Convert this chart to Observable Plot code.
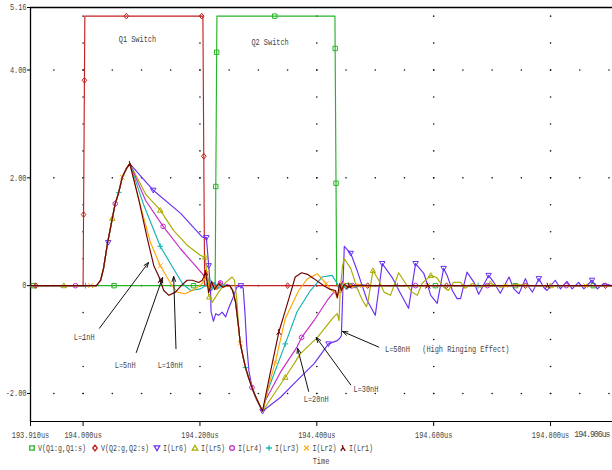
<!DOCTYPE html>
<html><head><meta charset="utf-8">
<script src="https://cdn.jsdelivr.net/npm/d3@7"></script>
<script src="https://cdn.jsdelivr.net/npm/@observablehq/plot@0.6"></script>
<style>body{margin:0;background:#fff}</style>
</head><body><div id="chart"></div>
<script>
// ---------- axis ticks ----------
const xTicks = [193.91, 194.0, 194.2, 194.4, 194.6, 194.8, 194.906];
const xTickLabels = ["193.910us","194.000us","194.200us","194.400us","194.600us","194.800us","194.906us"];
const yTicks = [5.16, 4, 2, 0, -2];
const yTickLabels = ["5.16","4.00","2.00","0","-2.00"];
const xDomain = [193.91, 194.906];
const yDomain = [-2.52, 5.16];
const gridMajorT = [194.0, 194.2, 194.4, 194.6, 194.8];
const gridMajorV = [-2, 0, 2, 4];

// ---------- series: [time (us), value] ----------
const vQ1 = [[193.910,0],[194.226,0],[194.229,5.0],[194.431,5.0],[194.434,0],[194.906,0]];
const vQ2 = [[193.910,0],[194.000,0],[194.003,5.0],[194.205,5.0],[194.208,0],[194.906,0]];

const riseCommon = [[193.910,0],[194.023,0],[194.030,0.10],[194.035,0.32],[194.042,0.80],[194.050,1.25],
  [194.055,1.52],[194.061,1.73],[194.067,2.01],[194.074,2.17],[194.080,2.26]];
const fallCommon = [[194.251,0],[194.256,-0.09],[194.261,-0.31],[194.266,-0.76]];
const dipCommon = [[194.269,-1.07],[194.274,-1.33],[194.278,-1.52],[194.283,-1.70],[194.289,-1.89],
  [194.295,-2.05],[194.301,-2.19],[194.307,-2.33]];

const iLr6 = riseCommon.concat([[194.120,1.77],[194.167,1.34],[194.204,0.90],[194.211,0.89],[194.215,0.37],
  [194.218,-0.05],[194.219,-0.48],[194.223,-0.66],[194.227,-0.52],[194.232,-0.55],[194.238,-0.49],[194.244,-0.58],
  [194.249,-0.42],[194.256,-0.24],[194.263,-0.03],[194.270,0],[194.274,-0.05],[194.277,-0.50],[194.280,-1.10],
  [194.284,-1.60],[194.290,-1.93],[194.297,-2.12],[194.307,-2.33],[194.338,-2.07],[194.366,-1.76],[194.395,-1.45],
  [194.420,-1.08],[194.435,-1.02],[194.439,-0.98],[194.442,-0.93],[194.444,-0.27],[194.447,0.73],[194.458,0.60],
  [194.469,0.28],[194.486,-0.27],[194.500,-0.55],[194.512,0.41],[194.529,0.15],[194.543,-0.14],[194.557,-0.42],
  [194.569,0.41],[194.583,0.23],[194.595,-0.18],[194.606,-0.33],[194.617,0.32],[194.623,0.19],[194.632,-0.09],
  [194.640,-0.24],[194.646,-0.24],[194.657,0.25],[194.669,0.06],[194.677,-0.16],[194.694,0.19],[194.703,0.06],
  [194.714,-0.14],[194.729,0.16],[194.737,-0.06],[194.746,-0.15],[194.757,0.13],[194.763,-0.03],[194.769,-0.12],
  [194.780,0.13],[194.788,-0.03],[194.794,-0.09],[194.808,0.10],[194.817,-0.06],[194.828,0.08],[194.837,-0.06],
  [194.848,0.06],[194.857,-0.06],[194.871,0.10],[194.880,-0.06],[194.891,0.04],[194.906,0]]);

const iLr5 = riseCommon.concat([[194.107,1.70],[194.132,1.40],[194.155,1.02],[194.178,0.75],[194.201,0.56],
  [194.209,0.53],[194.212,0.19],[194.215,-0.18],[194.218,-0.24],[194.221,-0.31],[194.232,-0.12],[194.244,0.06],
  [194.255,0.16],[194.259,0.10],[194.263,-0.25],[194.266,-0.76]], dipCommon, [[194.346,-1.70],[194.372,-1.26],
  [194.401,-0.96],[194.429,-0.58],[194.435,-0.52],[194.438,-0.65],[194.440,-0.09],[194.444,0.37],[194.447,0.50],
  [194.458,0.32],[194.469,-0.05],[194.478,-0.27],[194.485,-0.39],[194.488,-0.27],[194.496,0.28],[194.506,0.10],
  [194.515,-0.12],[194.526,-0.18],[194.540,0.24],[194.552,0.04],[194.563,-0.12],[194.572,-0.18],[194.580,0.04],
  [194.595,0.19],[194.605,0.15],[194.617,-0.03],[194.625,-0.09],[194.634,0.06],[194.646,0.06],[194.654,-0.05],
  [194.666,0.04],[194.680,-0.03],[194.697,0.04],[194.714,-0.03],[194.740,0.02],[194.766,0],[194.906,0]]);

const iLr4 = riseCommon.concat([[194.107,1.58],[194.137,1.10],[194.167,0.68],[194.192,0.37],[194.209,0.16],
  [194.215,0.04],[194.219,-0.05],[194.224,0.06],[194.229,-0.07],[194.234,0.08],[194.240,-0.03],[194.246,0.02]],
  fallCommon, dipCommon, [[194.312,-2.13],[194.338,-1.60],[194.366,-1.14],[194.374,-0.96],[194.395,-0.65],
  [194.418,-0.27],[194.430,-0.11],[194.435,-0.20],[194.439,-0.05],[194.444,0.08],[194.451,-0.07],[194.458,0.04],
  [194.466,-0.04],[194.475,0.02],[194.485,0],[194.906,0]]);

const iLr3 = riseCommon.concat([[194.104,1.49],[194.132,0.73],[194.155,0.31],[194.170,0.04],[194.184,-0.09],
  [194.201,-0.06],[194.209,0],[194.215,0.10],[194.220,-0.09],[194.225,0.06],[194.232,-0.05],[194.239,0.02],
  [194.245,0]], fallCommon, dipCommon, [[194.316,-1.95],[194.346,-1.08],[194.366,-0.49],[194.389,-0.09],
  [194.409,0.16],[194.426,0.19],[194.435,0.04],[194.439,-0.13],[194.444,0.02],[194.450,-0.06],[194.457,0.04],
  [194.465,-0.03],[194.475,0.01],[194.490,0],[194.906,0]]);

const iLr2 = riseCommon.concat([[194.098,1.49],[194.115,0.81],[194.132,0.37],[194.150,0.04],[194.161,-0.12],
  [194.175,-0.15],[194.192,-0.06],[194.204,0.04],[194.208,0.13],[194.212,0.25],[194.216,-0.09],[194.221,0.06],
  [194.227,-0.07],[194.233,0.04],[194.240,-0.03],[194.247,0]], fallCommon, dipCommon, [[194.314,-2.03],
  [194.321,-1.72],[194.329,-1.42],[194.346,-0.61],[194.369,-0.09],[194.384,0.13],[194.401,0.22],[194.416,0.04],
  [194.425,-0.09],[194.432,-0.13],[194.435,-0.24],[194.439,-0.03],[194.442,-0.13],[194.446,0.06],[194.450,-0.04],
  [194.455,0.05],[194.462,-0.03],[194.470,0.03],[194.480,-0.02],[194.490,0],[194.906,0]]);

const iLr1 = riseCommon.concat([[194.095,1.61],[194.110,0.87],[194.121,0.37],[194.130,0.16],[194.138,-0.09],
  [194.147,-0.18],[194.158,-0.12],[194.168,0],[194.178,0.10],[194.187,0.10],[194.198,0.06],[194.204,0.10],
  [194.210,0.24],[194.215,-0.13],[194.220,0.08],[194.225,-0.07],[194.232,0.04],[194.239,-0.03],[194.245,0]],
  fallCommon, dipCommon, [[194.321,-1.58],[194.335,-0.86],[194.345,-0.50],[194.355,-0.14],[194.363,0.16],
  [194.374,0.24],[194.384,0.21],[194.395,0.13],[194.412,0],[194.423,-0.07],[194.432,-0.09],[194.435,-0.22],
  [194.439,0.04],[194.442,-0.09],[194.447,0.02],[194.454,-0.03],[194.461,0],[194.906,0]]);

// ---------- trace markers: [time, value] ----------
const mkQ1 = [[193.915,0],[194.053,0],[194.189,0],[194.2271,1.84],[194.2286,4.33],[194.328,5.0],[194.4314,4.40],
  [194.4329,1.90],[194.452,0],[194.603,0],[194.740,0],[194.873,0]];
const mkQ2 = [[193.919,0],[194.0008,1.32],[194.0023,3.81],[194.074,5.0],[194.203,5.0],[194.2066,2.40],[194.350,0],
  [194.487,0],[194.622,0],[194.757,0],[194.894,0]];
const mkLr6 = [[194.043,0.80],[194.120,1.77],[194.211,0.89],[194.215,0.37],[194.270,0],[194.307,-2.33],[194.420,-1.08],
  [194.458,0.60],[194.512,0.41],[194.569,0.41],[194.617,0.32],[194.694,0.19],[194.780,0.13],[194.871,0.10]];
const mkLr5 = [[193.967,0],[194.050,1.25],[194.132,1.40],[194.209,0.53],[194.216,-0.21],[194.346,-1.70],[194.496,0.28],
  [194.595,0.19],[194.697,0.04],[194.800,0]];
const mkLr4 = [[193.987,0],[194.055,1.52],[194.137,1.10],[194.235,0.05],[194.289,-1.89],[194.374,-0.96],[194.461,0],
  [194.569,0],[194.692,0],[194.827,0]];
const mkLr3 = [[194.004,0],[194.061,1.73],[194.132,0.73],[194.215,0.10],[194.278,-1.52],[194.346,-1.08],[194.538,0],
  [194.676,0],[194.812,0]];
const mkLr2 = [[194.013,0],[194.067,2.01],[194.132,0.37],[194.212,0.25],[194.269,-1.07],[194.329,-1.42],[194.416,0.04],
  [194.472,0],[194.589,0],[194.723,0],[194.860,0]];
const mkLr1 = [[194.080,2.26],[194.132,0.10],[194.210,0.24],[194.335,-0.86],[194.455,0],[194.590,0],[194.795,0]];

// ---------- annotations ----------
const annoText = ["Q1 Switch","Q2 Switch","L=1nH","L=5nH","L=10nH","L=20nH","L=30nH","L=50nH","(High Ringing Effect)"];
const annoT = [194.093,194.320,194.002,194.072,194.149,194.399,194.484,194.538,194.655];
const annoV = [4.57,4.51,-0.96,-1.48,-1.48,-2.11,-1.92,-1.18,-1.18];
const arrowFromT = [194.028,194.091,194.159,194.386,194.458,194.506];
const arrowFromV = [-0.79,-1.24,-1.17,-1.96,-1.84,-1.14];
const arrowToT = [194.112,194.136,194.155,194.367,194.399,194.444];
const arrowToV = [0.43,0.15,0.17,-1.16,-0.96,-0.85];

const legendLabels = ["V(Q1:g,Q1:s)","V(Q2:g,Q2:s)","I(Lr6)","I(Lr5)","I(Lr4)","I(Lr3)","I(Lr2)","I(Lr1)"];
const xLabel = "Time";

// ---------- symbols ----------
const R = s => Math.sqrt(s / Math.PI);
const symSquare = {draw(c,s){const r=R(s)*0.85; c.rect(-r,-r,2*r,2*r);}};
const symDiamond = {draw(c,s){const r=R(s)*1.1; c.moveTo(0,-r);c.lineTo(r*0.8,0);c.lineTo(0,r);c.lineTo(-r*0.8,0);c.closePath();}};
const symTriDown = {draw(c,s){const r=R(s)*1.05; c.moveTo(-r,-r*0.75);c.lineTo(r,-r*0.75);c.lineTo(0,r);c.closePath();}};
const symTriUp = {draw(c,s){const r=R(s)*1.05; c.moveTo(-r,r*0.75);c.lineTo(r,r*0.75);c.lineTo(0,-r);c.closePath();}};
const symCircle = {draw(c,s){const r=R(s)*0.9; c.moveTo(r,0); c.arc(0,0,r,0,2*Math.PI);}};
const symPlus = {draw(c,s){const r=R(s)*1.1; c.moveTo(-r,0);c.lineTo(r,0);c.moveTo(0,-r);c.lineTo(0,r);}};
const symTimes = {draw(c,s){const r=R(s)*0.9; c.moveTo(-r,-r);c.lineTo(r,r);c.moveTo(r,-r);c.lineTo(-r,r);}};
const symLambda = {draw(c,s){const r=R(s)*1.1; c.moveTo(-r*0.2,-r);c.lineTo(0,-r*0.1);c.moveTo(-r*0.8,r);c.lineTo(0,-r*0.1);c.lineTo(r*0.8,r);}};

const series = [
  {data: vQ1, marks: mkQ1, color: "#26b426", sym: symSquare},
  {data: vQ2, marks: mkQ2, color: "#c42222", sym: symDiamond},
  {data: iLr6, marks: mkLr6, color: "#6a30f2", sym: symTriDown},
  {data: iLr5, marks: mkLr5, color: "#abab00", sym: symTriUp},
  {data: iLr4, marks: mkLr4, color: "#c62ac6", sym: symCircle},
  {data: iLr3, marks: mkLr3, color: "#15b2b2", sym: symPlus},
  {data: iLr2, marks: mkLr2, color: "#ffa600", sym: symTimes},
  {data: iLr1, marks: mkLr1, color: "#6e0000", sym: symLambda}
];

// grid dots
const gridPts = [];
for (const t of gridMajorT) for (const v of d3.range(-2, 5.01, 0.5)) gridPts.push([t, v]);
for (const v of gridMajorV) for (const t of d3.range(193.95, 194.905, 0.05)) gridPts.push([t, v]);

const FONT = "Liberation Mono, DejaVu Sans Mono, monospace";
const CHAR_W = 4.15;
const MR = 2.6;

const marks = [
  Plot.dot(gridPts, {x: d => d[0], y: d => d[1], r: 0.8, fill: "#111", stroke: null}),
  Plot.ruleY([yDomain[1]], {stroke: "#000", strokeWidth: 1.6}),
  Plot.ruleY([yDomain[0]], {stroke: "#000", strokeWidth: 1.2}),
  Plot.ruleX([xDomain[0]], {stroke: "#000", strokeWidth: 1.3}),
  Plot.axisY({ticks: yTicks, tickFormat: d => yTickLabels[yTicks.indexOf(d)], tickSize: 3, tickPadding: 1, label: null, anchor: "left"}),
  Plot.axisX({ticks: xTicks, tickFormat: d => xTickLabels[xTicks.indexOf(d)], tickSize: 5, tickPadding: 5, label: null, anchor: "bottom"})
];
for (const s of series) {
  marks.push(Plot.line(s.data, {x: d => d[0], y: d => d[1], stroke: s.color, strokeWidth: 1.15}));
  marks.push(Plot.dot(s.marks, {x: d => d[0], y: d => d[1], r: MR, symbol: s.sym, stroke: s.color, fill: "none", strokeWidth: 1}));
}
marks.push(Plot.arrow(d3.range(arrowFromT.length), {
  x1: i => arrowFromT[i], y1: i => arrowFromV[i], x2: i => arrowToT[i], y2: i => arrowToV[i],
  stroke: "#111", strokeWidth: 1, headLength: 8, headAngle: 40
}));
marks.push(Plot.text(d3.range(annoText.length), {
  x: i => annoT[i], y: i => annoV[i], text: i => annoText[i], fill: "#444", textAnchor: "middle"
}));

const chart = Plot.plot({
  width: 612, height: 470,
  marginLeft: 30, marginRight: 0, marginTop: 7, marginBottom: 49,
  x: {domain: xDomain},
  y: {domain: yDomain},
  style: {fontFamily: FONT, fontSize: "8.5px", color: "#000", background: "#fff", overflow: "visible"},
  marks
});

// legend + x label below the plot area
const svg = d3.select(chart);
const legendX = [32, 95, 157, 195, 232, 269, 306.5, 343];
const lg = svg.append("g").attr("font-family", FONT).attr("font-size", "8.5px");
series.forEach((s, i) => {
  const p = d3.path(); s.sym.draw(p, Math.PI * MR * MR);
  lg.append("path").attr("d", p.toString()).attr("transform", `translate(${legendX[i]},448)`)
    .attr("fill", "none").attr("stroke", s.color).attr("stroke-width", 1.3);
  lg.append("text").attr("x", legendX[i] + 6).attr("y", 448).attr("dy", "0.32em").attr("text-anchor", "start")
    .attr("textLength", legendLabels[i].length * 4.0).attr("lengthAdjust", "spacingAndGlyphs").text(legendLabels[i]);
});
lg.append("text").attr("x", 321).attr("y", 461).attr("dy", "0.32em").attr("text-anchor", "middle").text(xLabel);

chart.querySelectorAll("text").forEach(t => {
  const s = t.textContent;
  if (!s) return;
  const last = s === xTickLabels[xTickLabels.length - 1];
  if (last) {
    // keep the right-most tick label fully inside the picture
    t.setAttribute("text-anchor", "end");
    t.setAttribute("dx", "-3");
    t.style.letterSpacing = "-1px";
    t.style.fontSize = "8.2px";
  } else if (!t.getAttribute("textLength")) {
    t.setAttribute("textLength", (s.length * CHAR_W).toFixed(1));
    t.setAttribute("lengthAdjust", "spacingAndGlyphs");
  }
  t.style.fill = "#454545";
});

document.getElementById("chart").appendChild(chart);
</script></body></html>
